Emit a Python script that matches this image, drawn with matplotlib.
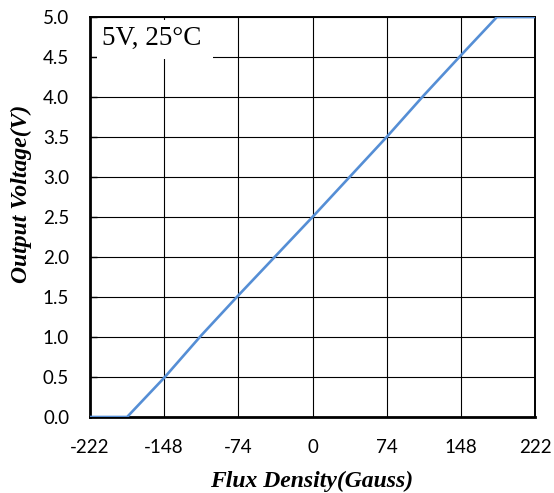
import matplotlib
matplotlib.use("Agg")
import matplotlib.pyplot as plt
from matplotlib.patches import Rectangle

# Sensor transfer curve: output voltage vs. magnetic flux density
flux_gauss = [-222, -185, -148, -111, -74, -37, 0, 37, 74, 111, 148, 184, 222]
output_v = [0.0, 0.0, 0.49, 1.02, 1.52, 2.01, 2.5, 3.0, 3.5, 4.02, 4.52, 5.0, 5.0]

x_ticks = [-222, -148, -74, 0, 74, 148, 222]
y_ticks = [0.0, 0.5, 1.0, 1.5, 2.0, 2.5, 3.0, 3.5, 4.0, 4.5, 5.0]

W, H = 554, 493
fig = plt.figure(figsize=(W / 100, H / 100), dpi=100)
ax = fig.add_axes([90 / W, 1 - 417 / H, 445 / W, 400 / H])

ax.plot(flux_gauss, output_v, color="#558ED5", linewidth=1.9, zorder=3,
        solid_capstyle="butt")

ax.set_xlim(-222, 222)
ax.set_ylim(0, 5)
ax.set_xticks(x_ticks)
ax.set_yticks(y_ticks)
ax.set_xticklabels([str(v) for v in x_ticks])
ax.set_yticklabels([f"{v:.1f}" for v in y_ticks])
ax.grid(True, color="black", linewidth=0.8, zorder=1)

for lab in ax.get_xticklabels() + ax.get_yticklabels():
    lab.set_fontfamily("Lato")
    lab.set_fontsize(13.5)
ax.tick_params(axis="x", length=0, pad=16)
ax.tick_params(axis="y", direction="in", length=5, width=1.0, pad=15)

for side in ("left", "bottom"):
    ax.spines[side].set_linewidth(2.0)
for side in ("top", "right"):
    ax.spines[side].set_linewidth(1.4)

# Axis titles placed in figure pixels
label_font = dict(family="Liberation Serif", weight="bold", style="italic", size=17)
fig.text(312 / W, 1 - 481 / H, "Flux Density(Gauss)", ha="center", va="center",
         **label_font)
fig.text(21 / W, 1 - 194 / H, "Output Voltage(V)", ha="center", va="center",
         rotation=90, **label_font)

# Condition note on a white patch in the upper-left corner
ax.add_patch(Rectangle((7 / 445, 1 - 42 / 400), 116 / 445, 39 / 400,
                       transform=ax.transAxes, facecolor="white",
                       edgecolor="none", zorder=2))
ax.text(12 / 445, 1 - 28 / 400, "5V, 25\u00b0C", transform=ax.transAxes,
        ha="left", va="baseline", family="Liberation Serif", fontsize=19.5,
        zorder=4)

fig.savefig("out.png", dpi=100)
